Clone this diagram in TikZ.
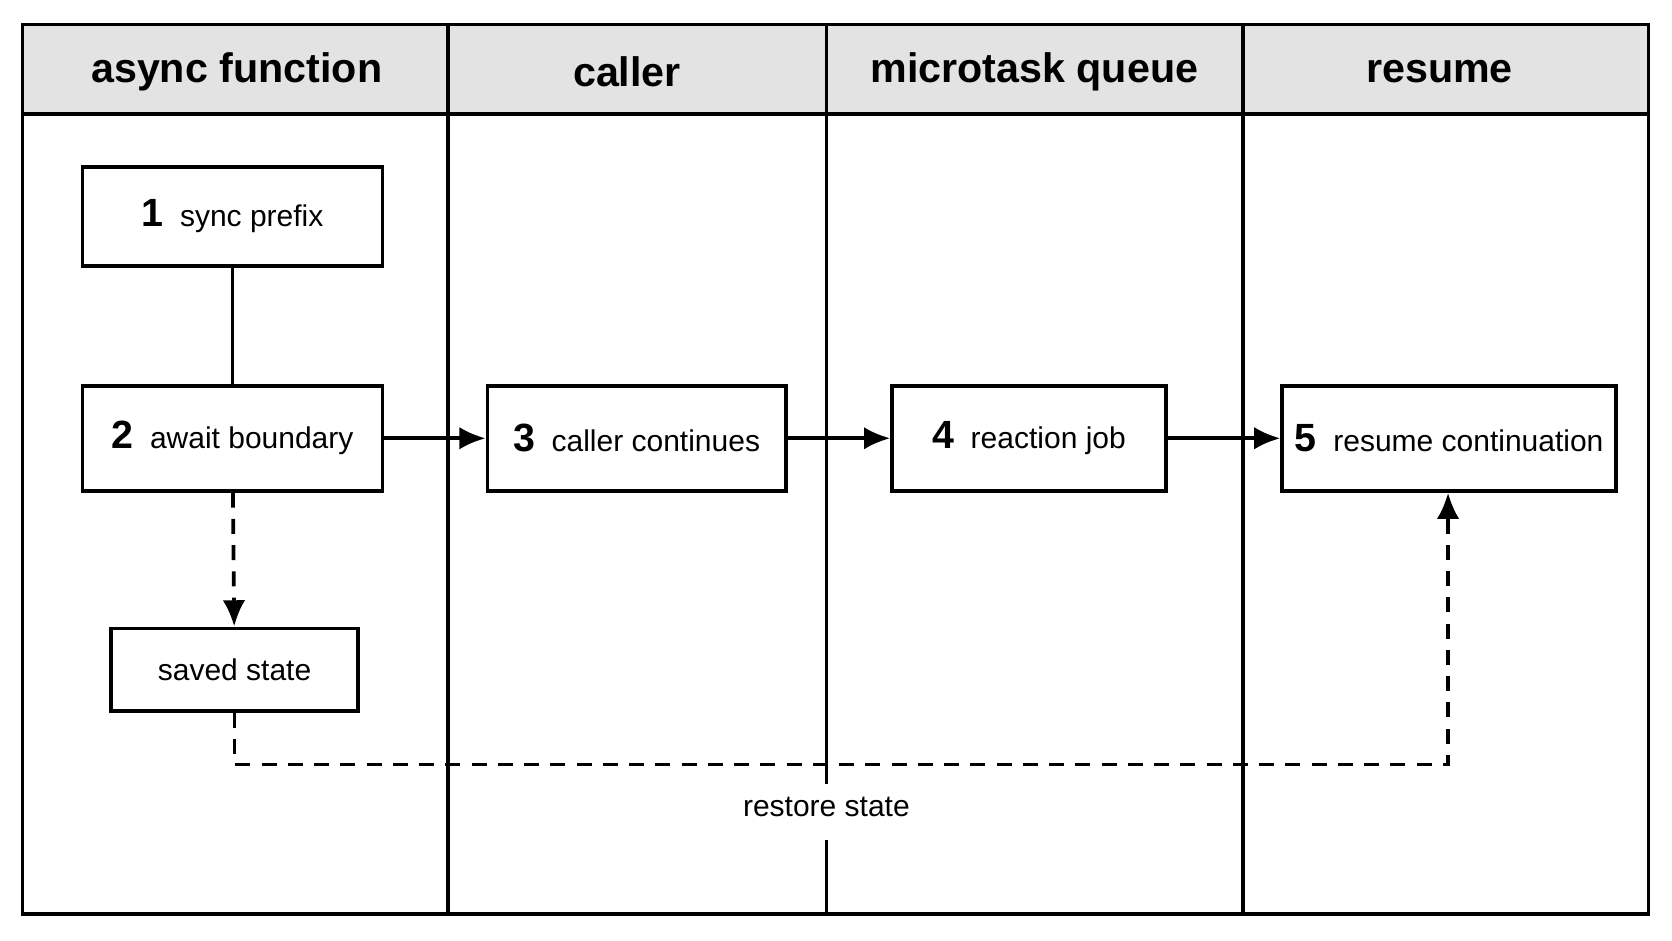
\documentclass[tikz,border=0pt]{standalone}
\usepackage{fontspec}
\setmainfont{Liberation Sans}
\usetikzlibrary{arrows.meta, positioning}

\begin{document}
\begin{tikzpicture}[x=0.01cm, y=-0.01cm, >={Latex[length=7pt,width=6pt]}, line width=1pt,
    lane/.style = {font=\fontsize{11}{13}\selectfont\bfseries},
    stage/.style = {draw, fill=white, minimum height=28pt, font=\fontsize{8}{10}\selectfont},
    flow/.style = {->},
    hint/.style = {->, dashed, dash pattern=on 4pt off 3pt}]
    \useasboundingbox (0,0) rectangle (1568,882);

    % Lanes
    \fill[gray!22] (21,23) rectangle (1546,107);
    \draw (21,23) rectangle (1546,857);
    \draw (21,107) -- (1546,107);
    \draw (420,23) -- (420,857);
    \draw (1166,23) -- (1166,857);
    \draw (775,23) -- (775,735);
    \draw (775,788) -- (775,857);
    \node[lane] at (222,67) {async function};
    \node[lane] at (588,67) {caller};
    \node[lane] at (970,67) {microtask queue};
    \node[lane] at (1350,67) {resume};

    % Steps
    \node[stage, minimum width=80pt, minimum height=26.5pt] (prefix) at (218,203) {{\bfseries\fontsize{10.5}{12}\selectfont 1}\ \ sync prefix};
    \node[stage, minimum width=80pt] (await) at (218,411) {{\bfseries\fontsize{10.5}{12}\selectfont 2}\ \ await boundary};
    \node[stage, minimum width=79.5pt] (caller) at (597,411) {{\bfseries\fontsize{10.5}{12}\selectfont 3}\ \ caller continues};
    \node[stage, minimum width=73pt] (job) at (965,411) {{\bfseries\fontsize{10.5}{12}\selectfont 4}\ \ reaction job};
    \node[stage, minimum width=84pt] (resume) at (1359,411) {{\bfseries\fontsize{10.5}{12}\selectfont 5}\ \ resume continuation};
    \node[stage, minimum width=66pt, minimum height=22pt] (saved) at (220,628) {saved state};
    \coordinate (turn) at (1358,717);

    \draw (prefix) -- (await);
    \draw[flow] (await) -- (caller);
    \draw[flow] (caller) -- (job);
    \draw[flow] (job) -- (resume);
    \draw[hint] (await) -- (saved);
    \draw[hint] (saved.south) |- (turn) -- (resume.south -| turn);
    \node[font=\fontsize{8}{10}\selectfont] (restore) at (775,757) {restore state};
\end{tikzpicture}
\end{document}
